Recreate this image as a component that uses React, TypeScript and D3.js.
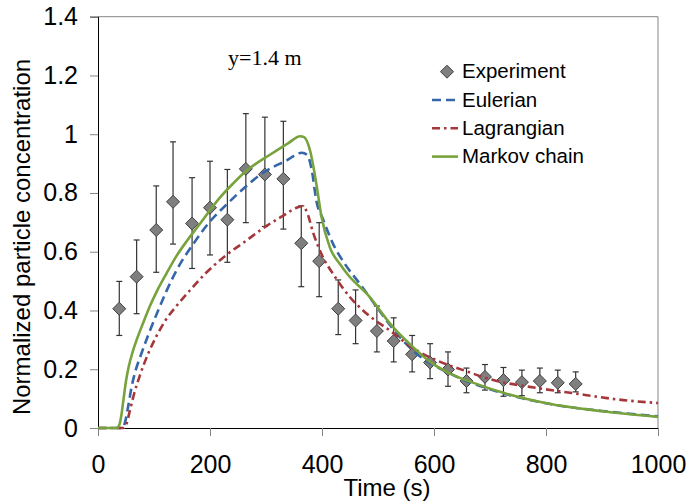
import * as d3 from 'd3';
import React, { useRef, useEffect } from 'react';

// experiment points (time in s, normalized concentration)
const expTime = [38, 69, 104, 134, 168, 200, 231, 264, 298, 331, 363, 395, 429, 460, 498, 528, 561, 593, 625, 658, 691, 724, 757, 789, 821, 853];
const expValue = [0.406, 0.515, 0.674, 0.77, 0.696, 0.75, 0.709, 0.882, 0.863, 0.848, 0.629, 0.568, 0.406, 0.366, 0.33, 0.296, 0.251, 0.223, 0.199, 0.16, 0.174, 0.163, 0.156, 0.16, 0.154, 0.15];
const expHigh = [0.499, 0.64, 0.824, 0.974, 0.852, 0.908, 0.88, 1.07, 1.058, 1.044, 0.756, 0.699, 0.504, 0.47, 0.415, 0.375, 0.315, 0.287, 0.259, 0.204, 0.216, 0.206, 0.197, 0.204, 0.197, 0.191];
const expLow = [0.315, 0.389, 0.53, 0.626, 0.543, 0.589, 0.564, 0.699, 0.686, 0.677, 0.481, 0.447, 0.318, 0.287, 0.259, 0.225, 0.191, 0.168, 0.142, 0.12, 0.129, 0.108, 0.11, 0.12, 0.12, 0.123];

// Eulerian model
const eulerTime = [0, 44, 49, 54, 60, 67, 75, 90, 105, 122, 140, 170, 200, 233, 254, 295, 337, 364, 374, 382, 390, 402, 420, 441, 468, 498, 539, 569, 629, 700, 800, 900, 1000];
const eulerValue = [0, 0, 0.025, 0.075, 0.14, 0.195, 0.24, 0.318, 0.389, 0.465, 0.536, 0.626, 0.703, 0.767, 0.805, 0.869, 0.911, 0.937, 0.928, 0.875, 0.773, 0.71, 0.626, 0.558, 0.49, 0.411, 0.309, 0.253, 0.185, 0.132, 0.084, 0.058, 0.04];

// Lagrangian model
const lagTime = [0, 46, 51, 57, 65, 75, 90, 105, 120, 140, 164, 194, 230, 262, 301, 330, 355, 364, 372, 385, 402, 420, 450, 480, 521, 569, 605, 652, 712, 771, 843, 938, 1000];
const lagValue = [0, 0, 0.015, 0.06, 0.12, 0.18, 0.255, 0.315, 0.365, 0.415, 0.468, 0.53, 0.59, 0.634, 0.688, 0.722, 0.75, 0.755, 0.74, 0.66, 0.58, 0.524, 0.445, 0.389, 0.332, 0.264, 0.23, 0.197, 0.16, 0.14, 0.12, 0.095, 0.085];

// Markov chain model
const markovTime = [0, 33, 37, 41, 45, 50, 55, 62, 70, 80, 92, 105, 122, 140, 160, 182, 218, 236, 264, 307, 340, 361, 368, 379, 390, 399, 414, 432, 447, 480, 527, 569, 593, 629, 682, 718, 801, 900, 1000];
const markovValue = [0, 0, 0.006, 0.035, 0.09, 0.16, 0.21, 0.26, 0.305, 0.355, 0.412, 0.465, 0.525, 0.585, 0.64, 0.695, 0.785, 0.822, 0.874, 0.93, 0.97, 0.993, 0.99, 0.942, 0.83, 0.72, 0.615, 0.558, 0.52, 0.457, 0.343, 0.264, 0.225, 0.185, 0.146, 0.123, 0.084, 0.057, 0.038];

const xTicks = [0, 200, 400, 600, 800, 1000];
const yTicks = [0, 0.2, 0.4, 0.6, 0.8, 1, 1.2, 1.4];
const legendLabels = ['Experiment', 'Eulerian', 'Lagrangian', 'Markov chain'];

const SANS = '"Liberation Sans", Arial, sans-serif';

function App() {
  const ref = useRef(null);

  useEffect(() => {
    const svg = d3.select(ref.current);
    svg.selectAll('*').remove();

    const margin = { left: 98, right: 658, top: 16.7, bottom: 428 };
    const x = d3.scaleLinear().domain([0, 1000]).range([margin.left, margin.right]);
    const y = d3.scaleLinear().domain([0, 1.4]).range([margin.bottom, margin.top]);

    svg.append('rect').attr('width', 689).attr('height', 501).attr('fill', '#fff');

    // plot frame: top/right gray
    svg.append('line').attr('x1', x(0)).attr('x2', x(1000)).attr('y1', y(1.4)).attr('y2', y(1.4))
      .attr('stroke', '#868686').attr('stroke-width', 1);
    svg.append('line').attr('x1', x(1000)).attr('x2', x(1000)).attr('y1', y(1.4)).attr('y2', y(0))
      .attr('stroke', '#868686').attr('stroke-width', 1);

    const yAxis = svg.append('g')
      .attr('transform', `translate(${x(0)},0)`)
      .call(d3.axisLeft(y).tickValues(yTicks).tickSize(8).tickPadding(12).tickFormat(d => String(d)));
    const xAxis = svg.append('g')
      .attr('transform', `translate(0,${y(0)})`)
      .call(d3.axisBottom(x).tickValues(xTicks).tickSize(8).tickPadding(19).tickFormat(d => String(d)));

    [yAxis, xAxis].forEach(g => {
      g.select('.domain').attr('stroke', '#000');
      g.selectAll('.tick line').attr('stroke', '#868686');
      g.selectAll('.tick text').attr('fill', '#000').style('font-family', SANS).style('font-size', '25px');
    });

    // error bars
    const eb = svg.append('g').attr('stroke', '#333').attr('stroke-width', 1.2);
    expTime.forEach((t, i) => {
      eb.append('line').attr('x1', x(t)).attr('x2', x(t)).attr('y1', y(expLow[i])).attr('y2', y(expHigh[i]));
      eb.append('line').attr('x1', x(t) - 3).attr('x2', x(t) + 3).attr('y1', y(expLow[i])).attr('y2', y(expLow[i]));
      eb.append('line').attr('x1', x(t) - 3).attr('x2', x(t) + 3).attr('y1', y(expHigh[i])).attr('y2', y(expHigh[i]));
    });

    const diamond = (cx, cy, r) => `M${cx},${cy - r}L${cx + r},${cy}L${cx},${cy + r}L${cx - r},${cy}Z`;
    svg.append('g').selectAll('path').data(expTime).enter().append('path')
      .attr('d', (t, i) => diamond(x(t), y(expValue[i]), 6.5))
      .attr('fill', '#7f7f7f').attr('stroke', '#404040').attr('stroke-width', 1);

    const line = d3.line().x(d => x(d[0])).y(d => y(d[1])).curve(d3.curveMonotoneX);
    const series = [
      { t: eulerTime, v: eulerValue, color: '#3566a8', dash: '9,5' },
      { t: lagTime, v: lagValue, color: '#a5373a', dash: '8,4,2.5,4' },
      { t: markovTime, v: markovValue, color: '#77a23c', dash: null },
    ];
    series.forEach(s => {
      svg.append('path')
        .attr('d', line(s.t.map((t, i) => [t, s.v[i]])))
        .attr('fill', 'none').attr('stroke', s.color).attr('stroke-width', 2.6)
        .attr('stroke-dasharray', s.dash);
    });

    // annotation
    svg.append('text').attr('x', 228).attr('y', 65).text('y=1.4 m')
      .style('font-family', '"Liberation Serif", "Times New Roman", serif').style('font-size', '22px');

    // legend
    const lg = svg.append('g');
    const rowY = [71.7, 100, 128.3, 156.6];
    lg.append('path').attr('d', diamond(447, rowY[0], 6.5)).attr('fill', '#7f7f7f').attr('stroke', '#404040');
    series.forEach((s, i) => {
      lg.append('line').attr('x1', 432).attr('x2', 458).attr('y1', rowY[i + 1]).attr('y2', rowY[i + 1])
        .attr('stroke', s.color).attr('stroke-width', 2.6).attr('stroke-dasharray', s.dash);
    });
    legendLabels.forEach((l, i) => {
      lg.append('text').attr('x', 462).attr('y', rowY[i] + 6.5).text(l)
        .style('font-family', SANS).style('font-size', '20.5px');
    });

    // axis titles
    svg.append('text').attr('x', 387).attr('y', 496).attr('text-anchor', 'middle').text('Time (s)')
      .style('font-family', SANS).style('font-size', '24px');
    svg.append('text').attr('transform', 'translate(30,237) rotate(-90)').attr('text-anchor', 'middle')
      .text('Normalized particle concentration')
      .style('font-family', SANS).style('font-size', '24px');
  }, []);

  return (
    <svg ref={ref} width={689} height={501} style={{ position: 'absolute', left: 0, top: 0 }}></svg>
  );
}

export default App;
